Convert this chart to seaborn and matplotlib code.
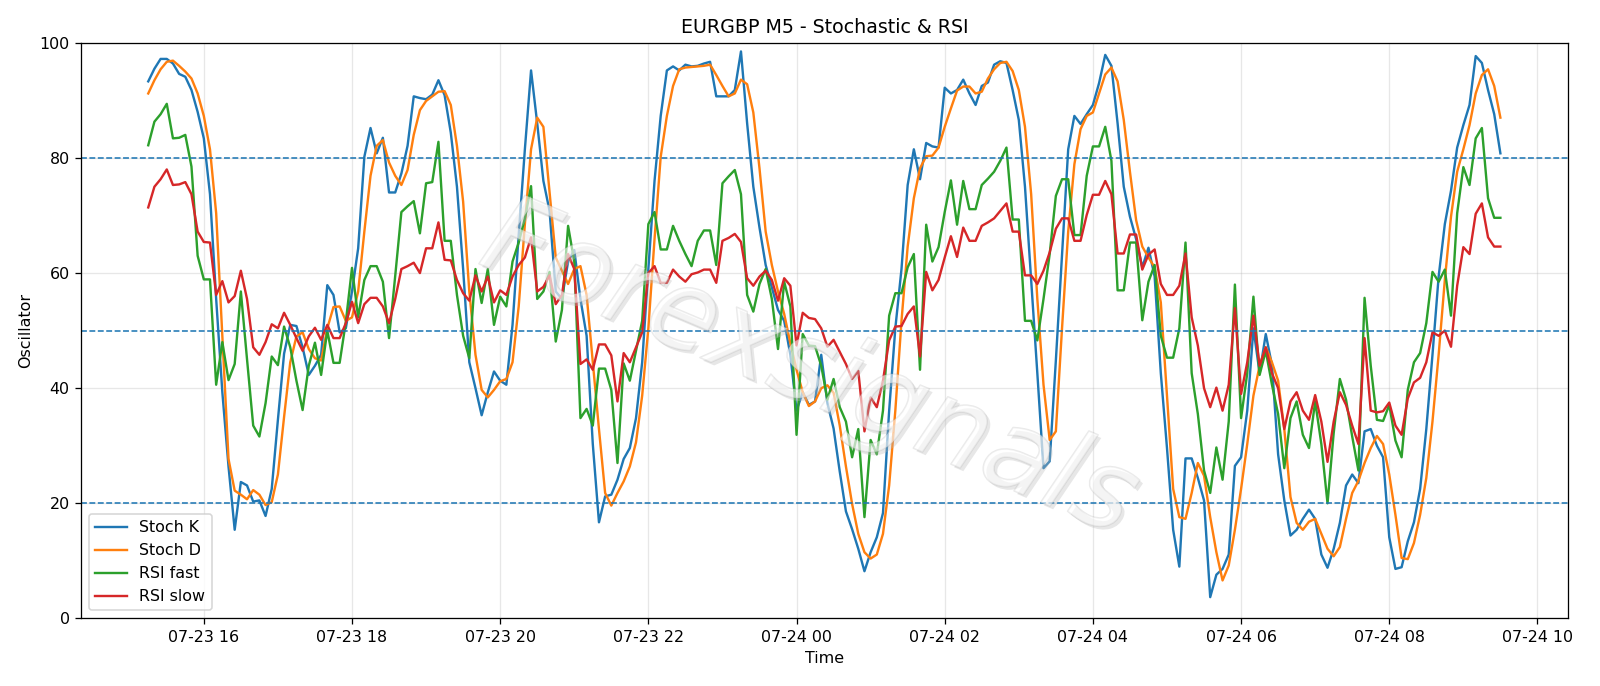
import numpy as np
import pandas as pd
import matplotlib
matplotlib.use("Agg")
import matplotlib.pyplot as plt
import matplotlib.dates as mdates
from matplotlib import patheffects as pe
import seaborn as sns

# EURGBP M5, 5 minute bars starting 07-23 15:15
start_time = "2024-07-23 15:15"

stoch_k = [
    93.3, 95.5, 97.2, 97.2, 96.4, 94.6, 94.1, 91.8, 88.0, 83.4,
    73.7, 55.5, 39.3, 26.4, 15.4, 23.7, 23.1, 20.3, 20.5, 17.8,
    22.5, 34.5, 46.0, 51.0, 50.8, 47.1, 42.3, 43.9, 45.8, 57.9,
    56.2, 49.7, 50.4, 56.8, 64.3, 80.2, 85.2, 80.8, 83.5, 74.0,
    74.0, 77.3, 82.1, 90.7, 90.4, 90.2, 91.0, 93.5, 90.9, 84.4,
    75.0, 60.7, 44.5, 40.0, 35.3, 39.3, 42.9, 41.3, 40.6, 51.0,
    66.6, 81.5, 95.2, 86.0, 76.0, 70.8, 56.8, 55.5, 62.0, 64.0,
    55.5, 49.1, 30.3, 16.7, 21.2, 21.5, 24.1, 27.7, 29.6, 34.8,
    44.5, 60.7, 76.0, 87.3, 95.2, 95.9, 95.2, 96.2, 95.9, 96.0,
    96.4, 96.7, 90.7, 90.7, 90.7, 91.8, 98.5, 86.0, 75.0, 67.9,
    61.4, 57.5, 53.6, 51.7, 45.8, 36.1, 39.3, 37.1, 37.7, 45.8,
    37.4, 33.0, 25.5, 18.6, 15.5, 12.1, 8.2, 11.5, 14.1, 18.3,
    36.1, 50.4, 60.7, 75.3, 81.5, 76.3, 82.6, 82.0, 81.8, 92.2,
    91.2, 91.8, 93.6, 91.2, 89.2, 92.5, 93.1, 96.2, 96.8, 96.5,
    91.8, 86.6, 75.0, 58.8, 42.6, 26.1, 27.3, 44.8, 63.1, 81.5,
    87.3, 85.9, 87.6, 89.2, 93.0, 97.9, 96.0, 86.0, 75.0, 69.8,
    65.9, 61.0, 64.4, 59.4, 42.6, 29.6, 15.4, 9.0, 27.8, 27.8,
    24.4, 20.5, 3.7, 7.6, 8.6, 11.1, 26.5, 28.0, 36.1, 50.4,
    42.6, 49.4, 44.0, 28.5, 20.5, 14.4, 15.4, 17.3, 18.9, 17.3,
    11.1, 8.8, 12.1, 16.6, 23.1, 25.0, 23.5, 32.5, 32.9, 30.0,
    28.0, 14.1, 8.6, 8.9, 13.4, 16.7, 22.5, 32.9, 45.8, 59.4,
    68.5, 74.3, 81.8, 85.7, 89.2, 97.7, 96.5, 91.8, 87.6, 80.8,
]

stoch_d = [
    91.2, 93.5, 95.4, 96.7, 96.9, 96.0, 95.0, 93.8, 91.2, 87.3,
    81.5, 70.4, 49.0, 27.7, 22.2, 21.5, 20.7, 22.3, 21.5, 19.7,
    20.2, 25.0, 35.0, 44.5, 49.0, 49.7, 46.8, 45.2, 44.8, 50.4,
    54.1, 54.2, 51.7, 52.3, 56.8, 67.2, 76.9, 82.1, 83.1, 79.2,
    76.9, 75.3, 77.9, 84.0, 88.3, 89.9, 90.7, 91.5, 91.6, 89.2,
    82.1, 72.4, 56.8, 45.8, 39.7, 38.4, 39.7, 41.2, 41.6, 44.5,
    54.2, 68.5, 81.5, 87.0, 85.4, 74.0, 62.7, 60.4, 58.1, 60.7,
    61.2, 56.2, 44.5, 32.9, 21.8, 19.6, 21.8, 23.8, 26.4, 30.6,
    38.7, 50.4, 65.9, 80.2, 87.3, 92.5, 95.4, 95.7, 95.8, 95.9,
    96.0, 96.2, 94.4, 92.5, 90.7, 91.2, 93.6, 92.8, 87.9, 78.2,
    67.2, 61.4, 56.8, 52.9, 47.8, 43.2, 39.3, 36.9, 37.7, 40.0,
    40.5, 39.2, 33.5, 26.4, 19.9, 14.7, 11.5, 10.4, 11.1, 14.7,
    23.1, 36.1, 51.7, 64.6, 73.0, 78.2, 80.3, 80.4, 81.8, 85.4,
    88.6, 91.7, 92.4, 92.4, 91.2, 91.5, 93.8, 95.4, 96.5, 96.7,
    95.1, 91.8, 85.4, 73.7, 55.5, 40.6, 31.0, 32.5, 50.4, 67.2,
    78.9, 85.0, 87.3, 87.9, 91.2, 94.5, 95.7, 93.3, 86.6, 77.6,
    69.2, 64.6, 62.7, 61.0, 54.9, 38.7, 22.5, 17.6, 17.3, 21.8,
    27.0, 24.8, 17.6, 11.5, 6.6, 9.2, 15.4, 22.5, 30.3, 38.7,
    43.9, 47.1, 44.5, 41.3, 32.9, 21.1, 16.6, 15.4, 16.8, 17.3,
    14.7, 12.1, 10.8, 12.4, 17.3, 21.8, 23.9, 27.0, 29.6, 31.7,
    30.3, 25.0, 18.0, 10.5, 10.3, 13.1, 18.0, 24.4, 34.2, 45.8,
    58.8, 69.8, 77.6, 81.5, 85.7, 91.2, 94.4, 95.4, 92.5, 87.0,
]

rsi_fast = [
    82.2, 86.3, 87.6, 89.4, 83.4, 83.5, 84.0, 78.5, 63.0, 58.9,
    58.9, 40.6, 48.0, 41.4, 44.2, 56.8, 45.0, 33.5, 31.6, 37.4,
    45.5, 44.0, 50.7, 47.1, 41.3, 36.2, 43.9, 47.9, 42.3, 50.0,
    44.4, 44.4, 51.5, 60.9, 52.3, 58.8, 61.2, 61.2, 58.5, 48.7,
    59.5, 70.6, 71.6, 72.5, 66.9, 75.6, 75.8, 82.8, 65.6, 65.6,
    56.2, 49.1, 45.2, 60.7, 54.8, 60.7, 51.0, 55.9, 54.2, 62.0,
    65.3, 69.5, 75.1, 55.5, 56.8, 60.2, 48.1, 53.6, 68.2, 62.0,
    34.8, 36.4, 33.5, 43.4, 43.4, 39.7, 27.0, 44.3, 41.3, 46.5,
    51.7, 68.5, 70.6, 64.1, 64.1, 68.2, 65.6, 63.3, 61.2, 65.6,
    67.4, 67.4, 61.4, 75.6, 76.8, 77.9, 73.7, 56.2, 53.3, 58.1,
    60.7, 55.5, 46.8, 58.5, 54.2, 31.9, 49.4, 47.4, 47.3, 43.9,
    38.0, 41.6, 36.7, 34.2, 28.0, 32.9, 17.6, 31.0, 28.5, 36.1,
    52.6, 56.5, 56.5, 61.0, 63.3, 43.2, 68.4, 62.0, 64.5, 70.6,
    76.1, 68.4, 76.0, 71.1, 71.1, 75.3, 76.4, 77.6, 79.5, 81.8,
    69.3, 69.3, 51.7, 51.7, 48.3, 55.5, 63.3, 73.4, 76.3, 76.3,
    66.6, 66.6, 76.9, 82.0, 82.0, 85.4, 79.5, 57.0, 57.0, 65.3,
    65.3, 51.8, 58.5, 61.4, 49.1, 45.3, 45.3, 50.4, 65.3, 42.6,
    35.5, 25.7, 21.8, 29.7, 24.1, 34.2, 58.0, 34.8, 42.6, 55.9,
    42.3, 46.5, 40.6, 35.5, 26.1, 34.8, 37.7, 31.9, 29.6, 37.7,
    30.3, 20.0, 32.2, 41.6, 38.0, 31.6, 25.7, 55.7, 43.9, 34.5,
    34.3, 37.1, 30.9, 28.0, 39.7, 44.5, 46.1, 51.3, 60.2, 58.5,
    60.6, 52.6, 70.4, 78.4, 75.3, 83.4, 85.2, 73.0, 69.6, 69.6,
]

rsi_slow = [
    71.4, 75.0, 76.3, 78.0, 75.3, 75.4, 75.8, 73.7, 67.2, 65.4,
    65.3, 56.2, 58.6, 54.9, 56.0, 60.4, 55.5, 47.1, 45.8, 48.0,
    51.1, 50.4, 53.1, 51.0, 48.7, 46.5, 49.0, 50.5, 48.4, 51.0,
    48.7, 48.7, 51.3, 55.0, 51.3, 54.6, 55.7, 55.7, 54.2, 51.3,
    55.5, 60.7, 61.2, 61.8, 60.0, 64.3, 64.3, 68.8, 62.3, 62.2,
    58.8, 56.5, 55.2, 59.6, 56.8, 59.4, 54.9, 57.0, 56.2, 59.4,
    61.4, 62.7, 66.2, 56.8, 57.6, 59.6, 54.6, 56.2, 63.3, 60.7,
    44.2, 45.0, 43.2, 47.6, 47.6, 45.7, 37.7, 46.1, 44.5, 47.1,
    49.7, 60.0, 61.2, 58.3, 58.3, 60.6, 59.4, 58.5, 59.8, 60.1,
    60.6, 60.6, 58.3, 65.6, 66.1, 66.8, 65.4, 59.1, 57.8, 59.4,
    60.4, 58.8, 55.2, 59.1, 57.8, 47.4, 53.1, 52.2, 52.0, 50.4,
    47.2, 48.4, 46.3, 44.2, 41.6, 43.0, 32.5, 38.4, 36.7, 41.3,
    48.3, 50.7, 50.8, 52.9, 54.2, 45.5, 60.2, 57.0, 58.8, 62.7,
    66.4, 62.8, 67.9, 65.6, 65.6, 68.2, 68.8, 69.5, 70.8, 72.1,
    67.2, 67.2, 59.6, 59.6, 58.1, 60.4, 63.6, 67.7, 69.5, 69.5,
    65.6, 65.6, 70.1, 73.6, 73.6, 76.0, 73.7, 63.4, 63.4, 66.7,
    66.7, 60.6, 63.2, 64.1, 58.1, 56.2, 56.2, 57.8, 63.4, 52.3,
    47.4, 40.0, 36.7, 40.1, 36.1, 40.6, 53.9, 39.0, 44.5, 52.6,
    43.9, 47.1, 42.6, 40.0, 32.9, 37.7, 39.3, 36.1, 34.5, 38.8,
    34.2, 27.2, 34.2, 39.3, 37.1, 33.5, 30.3, 48.7, 36.1, 35.8,
    36.0, 37.5, 33.5, 31.9, 38.2, 41.0, 41.8, 44.5, 49.7, 49.1,
    50.0, 47.2, 57.8, 64.5, 63.3, 70.3, 72.1, 66.2, 64.6, 64.6,
]

series_names = ["Stoch K", "Stoch D", "RSI fast", "RSI slow"]
levels = [20, 50, 80]

times = pd.date_range(start=start_time, periods=len(stoch_k), freq="5min")
df = pd.DataFrame({
    "Time": times,
    "Stoch K": stoch_k,
    "Stoch D": stoch_d,
    "RSI fast": rsi_fast,
    "RSI slow": rsi_slow,
})

fig, ax = plt.subplots(figsize=(14, 6.0025), dpi=1600 / 14)
fig.subplots_adjust(left=0.0504, right=0.98, top=0.9376, bottom=0.0985)

colors = ["C0", "C1", "C2", "C3"]
for name, c in zip(series_names, colors):
    sns.lineplot(data=df, x="Time", y=name, ax=ax, color=c, label=name, linewidth=1.5)

for lv in levels:
    ax.axhline(lv, color="C0", linestyle="--", linewidth=1.0)

ax.set_ylim(0, 100)
ax.grid(True, alpha=0.3)
ax.xaxis.set_major_locator(mdates.HourLocator(byhour=range(0, 24, 2)))
ax.xaxis.set_major_formatter(mdates.DateFormatter("%m-%d %H"))
ax.set_title("EURGBP M5 - Stochastic & RSI", fontsize=12)
ax.set_xlabel("Time")
ax.set_ylabel("Oscillator")
ax.legend(loc="lower left")

# watermark
ax.text(0.49, 0.43, "Forexsignals", transform=ax.transAxes, fontsize=70,
        style="italic", rotation=-23, ha="center", va="center",
        color="white", alpha=0.25, zorder=5,
        path_effects=[pe.withSimplePatchShadow(offset=(2, -2), shadow_rgbFace="#bbbbbb", alpha=0.35),
                      pe.Stroke(linewidth=1.0, foreground="#aaaaaa"), pe.Normal()])

fig.savefig("out.png", dpi=1600 / 14)
